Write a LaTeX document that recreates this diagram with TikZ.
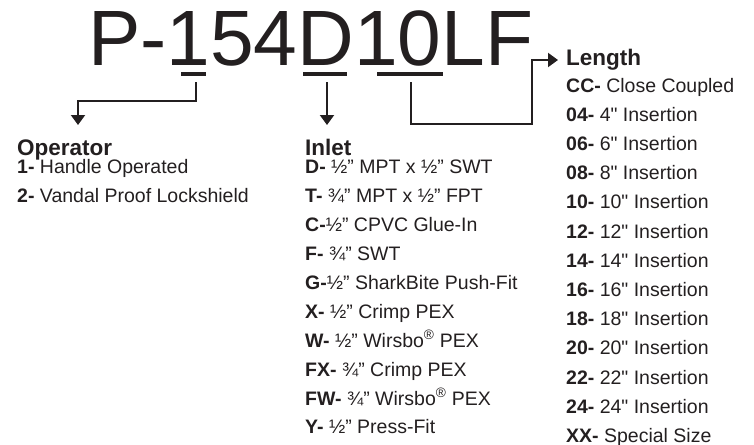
\documentclass[tikz,border=0pt]{standalone}
\usepackage{fontspec}
\setmainfont{Liberation Sans}[Ligatures=TeXOff]
\usetikzlibrary{arrows.meta}
\definecolor{ink}{RGB}{35,31,32}
\begin{document}
\begin{tikzpicture}[x=1pt,y=-1pt,
  txt/.style={anchor=base west,inner sep=0pt,text=ink,font=\fontsize{19.5}{22}\selectfont},
  head/.style={anchor=base west,inner sep=0pt,text=ink,font=\fontsize{22.5}{26}\selectfont\bfseries},
  title/.style={anchor=base west,inner sep=0pt,text=ink,font=\fontsize{78.5}{80}\selectfont},
  conn/.style={draw=ink,line width=2pt},
  arr/.style={conn,-{Triangle[width=14pt,length=10pt]}},
  uline/.style={fill=ink,draw=none}]
\useasboundingbox (0,0) rectangle (754,444);
% part number
\node[title] (pn) at (88,66) {P-154D10LF};
\fill[uline] (181,72) rectangle (206,76);
\fill[uline] (303,72) rectangle (347,76);
\fill[uline] (377,72) rectangle (443,76);
% connector end points
\coordinate (s1) at (196,82);
\coordinate (s2) at (327,82);
\coordinate (s3) at (411,82);
\coordinate (e1) at (78,125);
\coordinate (e2) at (327,125);
\coordinate (e3) at (558,60);
\coordinate (b1) at (532,124);
% Operator
\node[head] (op) at (17,155) {Operator};
\node[txt] (op1) at (17,173) {\textbf{1-} Handle Operated};
\node[txt] (op2) at (17,202) {\textbf{2-} Vandal Proof Lockshield};
% Inlet
\node[head] (in) at (305,155.5) {Inlet};
\node[txt] (inD) at (305,173.5) {\textbf{D-} ½” MPT x ½” SWT};
\node[txt] (inT) at (305,202) {\textbf{T-} ¾” MPT x ½” FPT};
\node[txt] (inC) at (305,231) {\textbf{C-}½” CPVC Glue-In};
\node[txt] (inF) at (305,260) {\textbf{F-} ¾” SWT};
\node[txt] (inG) at (305,289) {\textbf{G-}½” SharkBite Push-Fit};
\node[txt] (inX) at (305,318) {\textbf{X-} ½” Crimp PEX};
\node[txt] (inW) at (305,347) {\textbf{W-} ½” Wirsbo\textsuperscript{®} PEX};
\node[txt] (inFX) at (305,376) {\textbf{FX-} ¾” Crimp PEX};
\node[txt] (inFW) at (305,405) {\textbf{FW-} ¾” Wirsbo\textsuperscript{®} PEX};
\node[txt] (inY) at (305,433) {\textbf{Y-} ½” Press-Fit};
% Length
\node[head] (len) at (566,66) {Length};
\node[txt] (lenCC) at (566,92) {\textbf{CC-} Close Coupled};
\foreach \c/\v [count=\i] in {04/4,06/6,08/8,10/10,12/12,14/14,16/16,18/18,20/20,22/22,24/24}
  \node[txt] (len\c) at (566,92+29.2*\i) {\textbf{\c-} \v" Insertion};
\node[txt] (lenXX) at (566,442.4) {\textbf{XX-} Special Size};
% connectors
\draw[arr] (s1) |- (126,101) -| (e1);
\draw[arr] (s2) -- (e2);
\draw[arr] (s3) |- (b1) |- (e3);
\end{tikzpicture}
\end{document}
